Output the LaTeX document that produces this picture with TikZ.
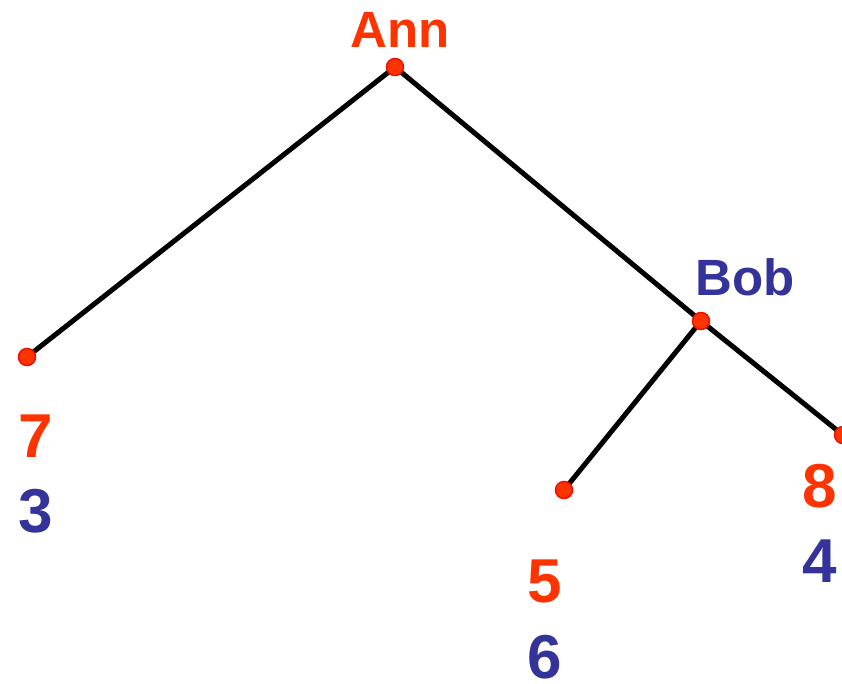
\documentclass[tikz,border=0pt]{standalone}
\usepackage{fontspec}
\setmainfont{Liberation Sans}
\definecolor{annc}{HTML}{FF3300}
\definecolor{bobc}{HTML}{333399}
\definecolor{dotedge}{HTML}{EE1100}
\begin{document}
\begin{tikzpicture}[x=1pt,y=-1pt,
  dot/.style={circle,fill=annc,draw=dotedge,line width=1.5pt,minimum size=17pt,inner sep=0pt},
  edge/.style={line width=5pt,black},
  lab/.style={font=\fontsize{51}{51}\selectfont\bfseries,anchor=base,inner sep=0pt},
  pay/.style={font=\fontsize{62}{62}\selectfont\bfseries,anchor=base,inner sep=0pt}]
\useasboundingbox (0,0) rectangle (842,683);
\clip (0,0) rectangle (842,683);
\coordinate (a) at (395,67);
\coordinate (l) at (27,357);
\coordinate (b) at (701,321);
\coordinate (m) at (564,490);
\coordinate (r) at (843,435);
\draw[edge] (a) -- (l);
\draw[edge] (a) -- (b);
\draw[edge] (b) -- (m);
\draw[edge] (b) -- (r);
\node[dot] (na) at (a) {};
\node[dot] (nl) at (l) {};
\node[dot] (nb) at (b) {};
\node[dot] (nm) at (m) {};
\node[dot] (nr) at (r) {};
\node[lab,text=annc] (tann) at (400,47) {Ann};
\node[lab,text=bobc] (tbob) at (745,295) {Bob};
\node[pay,text=annc] (p7) at (36,457) {7};
\node[pay,text=bobc] (p3) at (36,532) {3};
\node[pay,text=annc] (p5) at (545,602) {5};
\node[pay,text=bobc] (p6) at (545,678) {6};
\node[pay,text=annc] (p8) at (820,507) {8};
\node[pay,text=bobc] (p4) at (820,582) {4};
\end{tikzpicture}
\end{document}
